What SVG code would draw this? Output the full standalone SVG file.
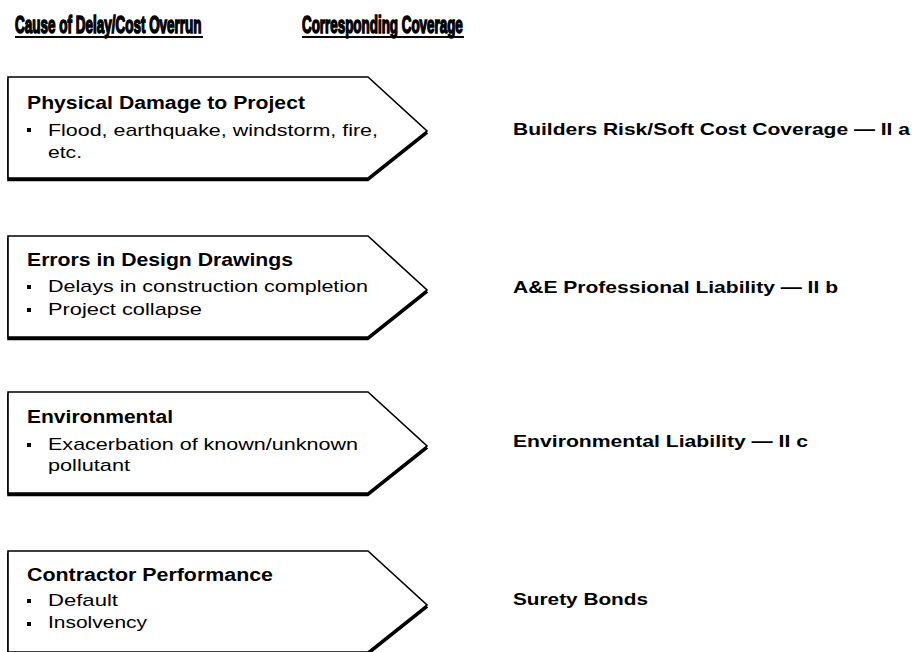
<svg xmlns="http://www.w3.org/2000/svg" width="916" height="652" viewBox="0 0 916 652">
<style>
.head{font-family:"Liberation Sans",Arial,sans-serif;font-weight:bold;font-size:24px;fill:#000;stroke:#000;stroke-width:1.6}
.uline{stroke:#000;stroke-width:2}
.title{font-family:"Liberation Sans",Arial,sans-serif;font-weight:bold;font-size:18px;fill:#000}
.item{font-family:"Liberation Sans",Arial,sans-serif;font-size:17px;fill:#000}
.cov{font-family:"Liberation Sans",Arial,sans-serif;font-weight:bold;font-size:17px;fill:#000}
.shape{fill:#fff;stroke:#000;stroke-width:1.6;stroke-linejoin:miter}
.shadow{fill:#000;stroke:#000;stroke-width:1.6}
.bul{fill:#000}
</style>
<defs>
<path id="arrow" d="M8 0 H368 L427 54 L368 101 H8 Z"/>
</defs>

<g id="headings">
<text class="head" transform="translate(15,33) scale(0.6,1)" x="0" y="0" textLength="311" lengthAdjust="spacingAndGlyphs">Cause of Delay/Cost Overrun</text>
<line class="uline" x1="15" y1="37" x2="203" y2="37"/>
<text class="head" transform="translate(302,33) scale(0.6,1)" x="0" y="0" textLength="268" lengthAdjust="spacingAndGlyphs">Corresponding Coverage</text>
<line class="uline" x1="302" y1="37" x2="464" y2="37"/>
</g>

<g id="cause1" transform="translate(0,77)">
<use href="#arrow" class="shadow" transform="translate(0,2.5)"/>
<use href="#arrow" class="shape"/>
<text class="title" x="27" y="32" textLength="278" lengthAdjust="spacingAndGlyphs">Physical Damage to Project</text>
<rect class="bul" x="27" y="51" width="4" height="4"/>
<text class="item" x="48" y="59" textLength="330" lengthAdjust="spacingAndGlyphs">Flood, earthquake, windstorm, fire,</text>
<text class="item" x="48" y="81" textLength="34" lengthAdjust="spacingAndGlyphs">etc.</text>
</g>

<g id="cause2" transform="translate(0,236)">
<use href="#arrow" class="shadow" transform="translate(0,2.5)"/>
<use href="#arrow" class="shape"/>
<text class="title" x="27" y="30" textLength="266" lengthAdjust="spacingAndGlyphs">Errors in Design Drawings</text>
<rect class="bul" x="27" y="49" width="4" height="4"/>
<text class="item" x="48" y="56" textLength="320" lengthAdjust="spacingAndGlyphs">Delays in construction completion</text>
<rect class="bul" x="27" y="72" width="4" height="4"/>
<text class="item" x="48" y="79" textLength="154" lengthAdjust="spacingAndGlyphs">Project collapse</text>
</g>

<g id="cause3" transform="translate(0,392)">
<use href="#arrow" class="shadow" transform="translate(0,2.5)"/>
<use href="#arrow" class="shape"/>
<text class="title" x="27" y="31" textLength="146" lengthAdjust="spacingAndGlyphs">Environmental</text>
<rect class="bul" x="27" y="51" width="4" height="4"/>
<text class="item" x="48" y="58" textLength="310" lengthAdjust="spacingAndGlyphs">Exacerbation of known/unknown</text>
<text class="item" x="48" y="79" textLength="82" lengthAdjust="spacingAndGlyphs">pollutant</text>
</g>

<g id="cause4" transform="translate(0,551)">
<use href="#arrow" class="shadow" transform="translate(0,2.5)"/>
<use href="#arrow" class="shape"/>
<text class="title" x="27" y="30" textLength="246" lengthAdjust="spacingAndGlyphs">Contractor Performance</text>
<rect class="bul" x="27" y="48" width="4" height="4"/>
<text class="item" x="48" y="55" textLength="70" lengthAdjust="spacingAndGlyphs">Default</text>
<rect class="bul" x="27" y="71" width="4" height="4"/>
<text class="item" x="48" y="77" textLength="99" lengthAdjust="spacingAndGlyphs">Insolvency</text>
</g>

<g id="coverage1"><text class="cov" x="513" y="135" textLength="397" lengthAdjust="spacingAndGlyphs">Builders Risk/Soft Cost Coverage — II a</text></g>
<g id="coverage2"><text class="cov" x="513" y="293" textLength="325" lengthAdjust="spacingAndGlyphs">A&amp;E Professional Liability — II b</text></g>
<g id="coverage3"><text class="cov" x="513" y="447" textLength="295" lengthAdjust="spacingAndGlyphs">Environmental Liability — II c</text></g>
<g id="coverage4"><text class="cov" x="513" y="605" textLength="135" lengthAdjust="spacingAndGlyphs">Surety Bonds</text></g>

<g id="connectors"></g>
</svg>
